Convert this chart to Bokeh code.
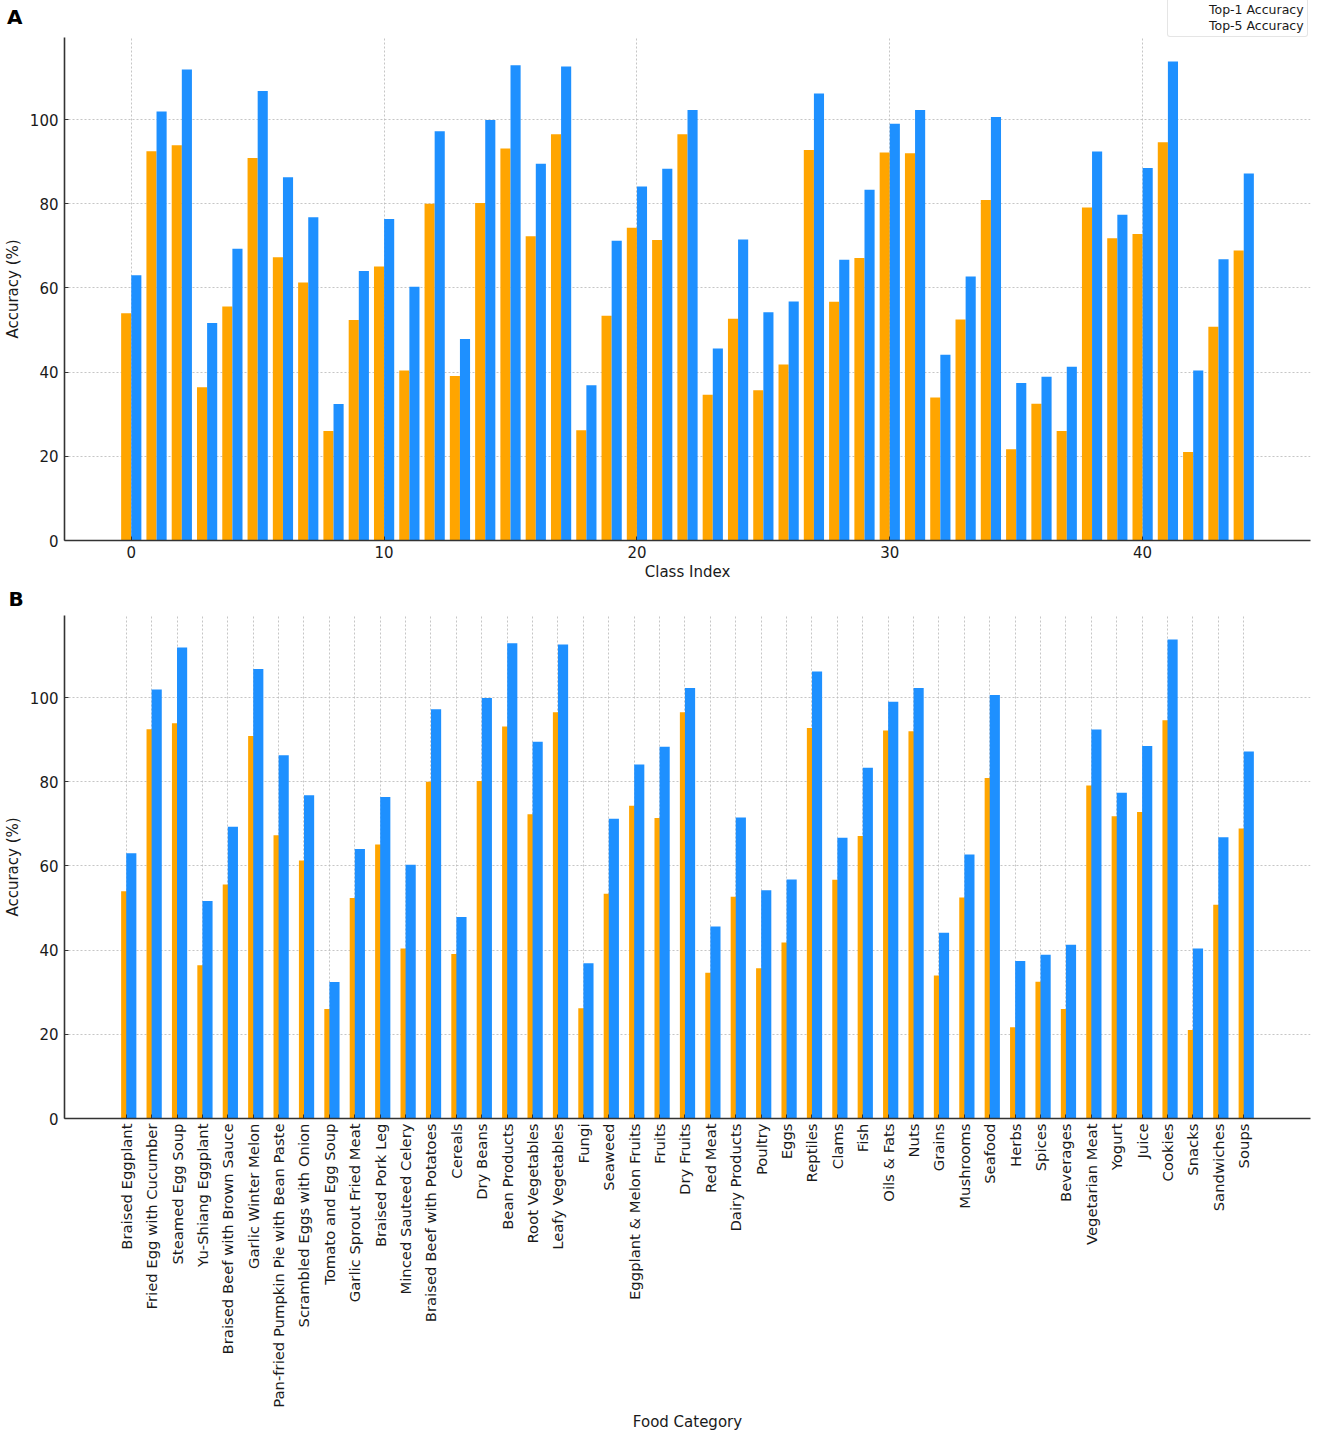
import math
from bokeh.plotting import figure
from bokeh.models import (Range1d, FixedTicker, Legend, LegendItem, Title,
                          ColumnDataSource)
from bokeh.layouts import column
from bokeh.transform import dodge
from bokeh.embed import file_html
from bokeh.resources import INLINE

# ---------------- data ----------------
class_index = list(range(45))
categories = [
    "Braised Eggplant", "Fried Egg with Cucumber", "Steamed Egg Soup",
    "Yu-Shiang Eggplant", "Braised Beef with Brown Sauce", "Garlic Winter Melon",
    "Pan-fried Pumpkin Pie with Bean Paste", "Scrambled Eggs with Onion",
    "Tomato and Egg Soup", "Garlic Sprout Fried Meat", "Braised Pork Leg",
    "Minced Sauteed Celery", "Braised Beef with Potatoes", "Cereals", "Dry Beans",
    "Bean Products", "Root Vegetables", "Leafy Vegetables", "Fungi", "Seaweed",
    "Eggplant & Melon Fruits", "Fruits", "Dry Fruits", "Red Meat",
    "Dairy Products", "Poultry", "Eggs", "Reptiles", "Clams", "Fish",
    "Oils & Fats", "Nuts", "Grains", "Mushrooms", "Seafood", "Herbs", "Spices",
    "Beverages", "Vegetarian Meat", "Yogurt", "Juice", "Cookies", "Snacks",
    "Sandwiches", "Soups",
]
top1 = [54.0, 92.5, 93.9, 36.4, 55.6, 90.9, 67.3, 61.3, 26.0, 52.4,
        65.1, 40.4, 80.0, 39.1, 80.2, 93.1, 72.3, 96.5, 26.2, 53.4,
        74.3, 71.4, 96.5, 34.6, 52.7, 35.7, 41.8, 92.8, 56.7, 67.1,
        92.2, 92.0, 34.0, 52.5, 80.9, 21.7, 32.5, 26.0, 79.1, 71.8,
        72.8, 94.6, 21.0, 50.8, 68.9]
top5 = [63.0, 101.9, 111.9, 51.7, 69.3, 106.8, 86.3, 76.8, 32.4, 64.0,
        76.4, 60.3, 97.2, 47.9, 99.9, 112.9, 89.5, 112.6, 36.9, 71.2,
        84.1, 88.3, 102.3, 45.6, 71.5, 54.2, 56.8, 106.2, 66.7, 83.3,
        99.0, 102.3, 44.1, 62.7, 100.6, 37.4, 38.9, 41.3, 92.4, 77.4,
        88.5, 113.8, 40.4, 66.8, 87.2]
y_ticks = [0, 20, 40, 60, 80, 100]
a_x_ticks = [0, 10, 20, 30, 40]
series_names = ["Top-1 Accuracy", "Top-5 Accuracy"]
panel_letters = ["A", "B"]

FONT = "DejaVu Sans"
ORANGE = "#FFA500"
BLUE = "#1E90FF"
TXT = "#1a1a1a"
FS = "15px"

src = ColumnDataSource(dict(idx=class_index, top1=top1, top5=top5, cat=categories))


def style(p):
    p.outline_line_color = None
    p.background_fill_color = "white"
    p.border_fill_color = "white"
    for ax in (p.xaxis[0], p.yaxis[0]):
        ax.axis_line_color = "#333333"
        ax.axis_line_width = 1.6
        ax.major_tick_in = 4
        ax.major_tick_out = 0
        ax.major_tick_line_color = "#333333"
        ax.minor_tick_line_color = None
        ax.major_label_text_font = FONT
        ax.major_label_text_font_size = FS
        ax.major_label_text_color = TXT
        ax.axis_label_text_font = FONT
        ax.axis_label_text_font_size = FS
        ax.axis_label_text_font_style = "normal"
        ax.axis_label_text_color = TXT
    p.yaxis[0].ticker = FixedTicker(ticks=y_ticks)
    p.yaxis[0].major_label_standoff = 6
    p.yaxis[0].axis_label_standoff = 5
    p.yaxis[0].axis_label = "Accuracy (%)"
    for g in (p.xgrid[0], p.ygrid[0]):
        g.grid_line_color = "#b8b8b8"
        g.grid_line_dash = "2 2"
        g.grid_line_alpha = 0.8
        g.grid_line_width = 1


# ---------------- header strip of panel A (letter + legend) ----------------
pTop = figure(width=1320, height=37, output_backend="svg", toolbar_location=None,
              x_range=Range1d(0, 1249), y_range=Range1d(0, 37),
              x_axis_location=None, min_border_left=61, min_border_right=10,
              min_border_top=0, min_border_bottom=0)
pTop.outline_line_color = None
pTop.background_fill_color = "white"
pTop.border_fill_color = "white"
pTop.xgrid.visible = False
pTop.ygrid.visible = False
ya = pTop.yaxis[0]
ya.ticker = FixedTicker(ticks=[21])
ya.major_label_overrides = {21: panel_letters[0]}
ya.major_label_text_font = FONT
ya.major_label_text_font_size = "20px"
ya.major_label_text_font_style = "bold"
ya.major_label_text_color = "black"
ya.major_label_standoff = 36
ya.axis_line_color = None
ya.major_tick_line_color = None
ya.minor_tick_line_color = None
# legend proxies (no data of their own)
k1 = pTop.vbar(x=[], top=[], width=0.4, fill_color=ORANGE, line_color=None)
k5 = pTop.vbar(x=[], top=[], width=0.4, fill_color=BLUE, line_color=None)
legend = Legend(items=[LegendItem(label=series_names[0], renderers=[k1]),
                       LegendItem(label=series_names[1], renderers=[k5])],
                location=(1103, 0), orientation="vertical",
                label_text_font=FONT, label_text_font_size="12.5px",
                label_text_color=TXT, glyph_width=32, glyph_height=9,
                label_height=14, label_standoff=6, spacing=1, padding=3,
                margin=0, border_line_color="#cccccc", border_line_width=1,
                border_radius=3, background_fill_color="white",
                background_fill_alpha=0.85)
pTop.add_layout(legend, "center")

# ---------------- Panel A ----------------
pA = figure(width=1320, height=547, output_backend="svg", toolbar_location=None,
            x_range=Range1d(-2.64, 46.64), y_range=Range1d(0, 119.5),
            min_border_left=61, min_border_right=10, min_border_top=0,
            min_border_bottom=44)
pA.vbar(x=dodge("idx", -0.2, range=pA.x_range), top="top1", width=0.4,
        source=src, fill_color=ORANGE, line_color=None)
pA.vbar(x=dodge("idx", 0.2, range=pA.x_range), top="top5", width=0.4,
        source=src, fill_color=BLUE, line_color=None)
style(pA)
pA.xaxis[0].ticker = FixedTicker(ticks=a_x_ticks)
pA.xaxis[0].axis_label = "Class Index"
pA.xaxis[0].major_label_standoff = 5
pA.xaxis[0].axis_label_standoff = 2

# ---------------- Panel B ----------------
pB = figure(width=1320, height=850, output_backend="svg", toolbar_location=None,
            x_range=Range1d(-2.43, 46.63), y_range=Range1d(0, 119.5),
            min_border_left=61, min_border_right=10, min_border_top=31,
            min_border_bottom=316)
pB.vbar(x="idx", top="top1", width=0.4, source=src, fill_color=ORANGE,
        line_color=None)
pB.vbar(x=dodge("idx", 0.2, range=pB.x_range), top="top5", width=0.4,
        source=src, fill_color=BLUE, line_color=None)
style(pB)
pB.title = Title(text=panel_letters[1], align="left", offset=-56, standoff=5,
                 vertical_align="top", text_font=FONT, text_font_size="20px",
                 text_font_style="bold", text_color="black")
pB.xaxis[0].ticker = FixedTicker(ticks=class_index)
pB.xaxis[0].major_label_overrides = {i: c for i, c in zip(class_index, categories)}
pB.xaxis[0].major_label_orientation = math.pi / 2
pB.xaxis[0].major_label_text_font_size = "14.8px"
pB.xaxis[0].major_label_standoff = 5
pB.xaxis[0].axis_label = "Food Category"
pB.xaxis[0].axis_label_standoff = 2

layout = column(pTop, pA, pB, spacing=0)
open("out.html", "w").write(file_html(layout, INLINE))
